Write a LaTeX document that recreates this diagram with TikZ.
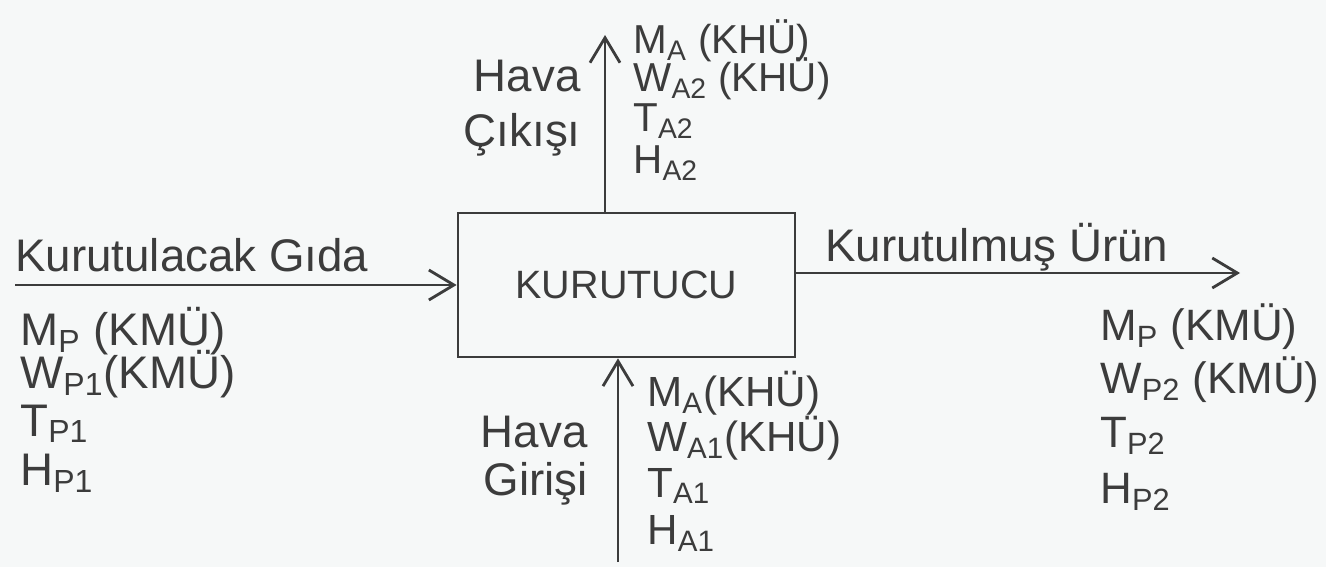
\documentclass[tikz,border=0pt]{standalone}
\usepackage{fontspec}
\setmainfont{Liberation Sans}
\usetikzlibrary{arrows.meta}
\definecolor{ink}{HTML}{3C3C3C}
\definecolor{paper}{HTML}{F6F8F8}
\begin{document}
\begin{tikzpicture}[x=1cm,y=1cm,
  flow/.style={draw=ink, line width=1.6pt, -{Straight Barb[length=5mm,width=6mm,line width=1.6pt]}},
  lbl/.style={inner sep=0pt, anchor=base west, text=ink},
  lblr/.style={inner sep=0pt, anchor=base east, text=ink},
  fa/.style={font=\fontsize{23}{27}\selectfont},
  fb/.style={font=\fontsize{26}{30}\selectfont},
  fr/.style={font=\fontsize{25}{29}\selectfont},
  fc/.style={font=\fontsize{24}{28}\selectfont},
  fh/.style={font=\fontsize{26}{31}\selectfont}]
\fill[paper] (0,0) rectangle (26.52,11.34);
\useasboundingbox (0,0) rectangle (26.52,11.34);

\node[draw=ink, line width=1.6pt, minimum width=6.74cm, minimum height=2.88cm,
      inner sep=0pt, text=ink, font=\fontsize{22.5}{27}\selectfont] (box) at (12.53,5.64) {KURUTUCU};

\coordinate (inL) at (0.3,5.64);
\coordinate (outR) at (24.8,5.88);
\coordinate (outT) at (12.1,10.64);
\coordinate (inB) at (12.36,0.1);
\draw[flow] (inL) -- (box.west);
\draw[flow] (box.east |- outR) -- (outR);
\draw[flow] (box.north -| outT) -- (outT);
\draw[flow] (inB) -- (box.south -| inB);

% top
\node[lblr,fh] (hc1) at (11.62,9.5) {Hava};
\node[lblr,fh] (hc2) at (11.62,8.4) {Çıkışı};
\node[lbl,fa] (t1) at (12.66,10.26) {M\textsubscript{A} (KHÜ)};
\node[lbl,fa] (t2) at (12.66,9.5) {W\textsubscript{A2} (KHÜ)};
\node[lbl,fa] (t3) at (12.66,8.7) {T\textsubscript{A2}};
\node[lbl,fa] (t4) at (12.66,7.86) {H\textsubscript{A2}};

% left
\node[lbl,fb] (kg) at (0.3,5.9) {Kurutulacak Gıda};
\node[lbl,fb] (l1) at (0.4,4.42) {M\textsubscript{P} (KMÜ)};
\node[lbl,fb] (l2) at (0.4,3.56) {W\textsubscript{P1}(KMÜ)};
\node[lbl,fb] (l3) at (0.4,2.62) {T\textsubscript{P1}};
\node[lbl,fb] (l4) at (0.4,1.62) {H\textsubscript{P1}};

% right
\node[lbl,fb] (ku) at (16.5,6.1) {Kurutulmuş Ürün};
\node[lbl,fr] (r1) at (22.0,4.52) {M\textsubscript{P} (KMÜ)};
\node[lbl,fr] (r2) at (22.0,3.46) {W\textsubscript{P2} (KMÜ)};
\node[lbl,fr] (r3) at (22.0,2.38) {T\textsubscript{P2}};
\node[lbl,fr] (r4) at (22.0,1.26) {H\textsubscript{P2}};

% bottom
\node[lblr,fh] (hg1) at (11.76,2.4) {Hava};
\node[lblr,fh] (hg2) at (11.76,1.44) {Girişi};
\node[lbl,fc] (b1) at (12.94,3.2) {M\textsubscript{A}(KHÜ)};
\node[lbl,fc] (b2) at (12.94,2.3) {W\textsubscript{A1}(KHÜ)};
\node[lbl,fc] (b3) at (12.94,1.4) {T\textsubscript{A1}};
\node[lbl,fc] (b4) at (12.94,0.44) {H\textsubscript{A1}};
\end{tikzpicture}
\end{document}
